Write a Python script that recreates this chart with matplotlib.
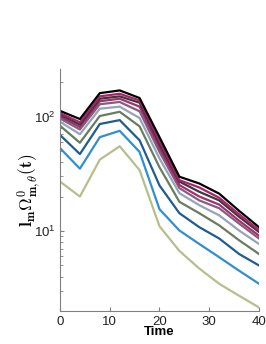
import numpy as np
import matplotlib
matplotlib.use("Agg")
import matplotlib.pyplot as plt

plt.rcParams['mathtext.fontset'] = 'cm'
plt.rcParams['font.family'] = ['Liberation Sans', 'DejaVu Sans']

# time samples
time = [0, 4, 8, 12, 16, 20, 24, 28, 32, 36, 40]

# one curve per m (bottom to top)
olive = [27, 20, 42, 55, 34, 11, 6.7, 4.7, 3.46, 2.72, 2.15]
blue = [53, 35, 66, 75, 49, 15.5, 10.1, 7.7, 5.9, 4.5, 3.46]
darkblue = [69, 47, 86, 93, 62, 25, 14.3, 10.8, 8.6, 6.3, 5.0]
green = [83, 59, 101, 110, 82, 36, 18, 14.3, 11.2, 8.3, 6.3]
steel = [90, 70, 117, 122, 97, 43, 21.4, 16.8, 13.7, 10.1, 7.7]
mauve = [96, 77, 128, 134, 111, 49, 23.7, 18.5, 15.8, 11.6, 8.6]
magenta2 = [100, 81, 136, 143, 122, 53, 25.2, 20, 17, 12.3, 9.1]
darkgrey = [104, 85, 143, 150, 132, 57, 27, 22, 18.5, 13.3, 9.8]
magenta = [107, 89, 150, 158, 138, 61, 27.8, 24, 19.5, 14, 10.2]
black = [112, 95, 160, 169, 145, 66, 29.8, 26, 21.2, 15, 10.8]

series = [olive, blue, darkblue, green, steel, mauve, magenta2, darkgrey, magenta, black]
colors = ['#b5bf8e', '#2f8fd1', '#1f5c8f', '#687c5e', '#93a5b8',
          '#8b5a80', '#a0306e', '#3a3a3a', '#b0206c', '#000000']

fig = plt.figure(figsize=(2.66, 3.44), dpi=100)
ax = fig.add_axes([0.2256, 0.0959, 0.748, 0.7035])

for vals, c in zip(series, colors):
    ax.plot(time, vals, color=c, lw=1.6)

ax.set_yscale('log')
ax.set_xlim(0, 40)
ax.set_ylim(2.0, 260)
ax.set_xticks([0, 10, 20, 30, 40])

for side in ['top', 'right']:
    ax.spines[side].set_visible(False)
for side in ['left', 'bottom']:
    ax.spines[side].set_color('#808080')

ax.tick_params(which='both', direction='in', colors='#808080', labelcolor='#222222',
               labelsize=9.5)
ax.tick_params(which='major', length=3)
ax.tick_params(which='minor', length=2)

ax.set_xlabel('Time', fontsize=9.5, fontweight='bold', labelpad=-1)
ax.set_ylabel(r'$\mathbf{l_m\Omega^0_{m,\theta}(t)}$', fontsize=12.5)
ax.yaxis.set_label_coords(-0.085, 0.5)

fig.savefig('out.png', dpi=100)
